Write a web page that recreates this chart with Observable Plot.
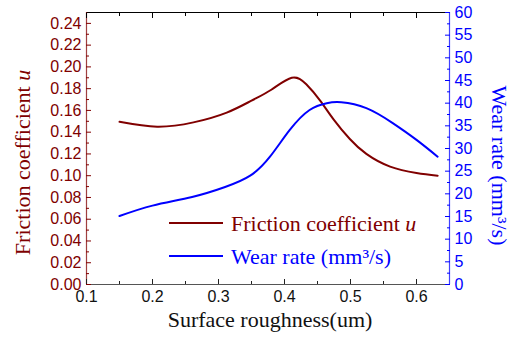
<!DOCTYPE html>
<html>
<head>
<meta charset="utf-8">
<script src="https://cdn.jsdelivr.net/npm/d3@7"></script>
<script src="https://cdn.jsdelivr.net/npm/@observablehq/plot@0.6"></script>
<style>
  html, body { margin: 0; padding: 0; background: #fff; }
  #chart { width: 513px; height: 347px; }
</style>
</head>
<body>
<div id="chart"></div>
<script>
// ---- data ----
const roughnessF = [0.15, 0.207, 0.262, 0.3125, 0.35, 0.38, 0.411, 0.433, 0.454, 0.474, 0.499, 0.524, 0.56, 0.60, 0.632];
const friction   = [0.1495, 0.145, 0.149, 0.158, 0.169, 0.179, 0.190, 0.184, 0.169, 0.152, 0.1337, 0.120, 0.1083, 0.1025, 0.100];
const roughnessW = [0.15, 0.20, 0.26, 0.31, 0.348, 0.378, 0.408, 0.438, 0.464, 0.486, 0.524, 0.564, 0.60, 0.632];
const wearRate   = [15.1, 17.4, 19.3, 21.5, 24.0, 28.2, 34.1, 38.5, 40.0, 40.2, 38.9, 35.6, 31.9, 28.2];

const xTicks = [0.1, 0.2, 0.3, 0.4, 0.5, 0.6];
const xMinorTicks = [0.15, 0.25, 0.35, 0.45, 0.55];
const frictionTicks = [0, 0.02, 0.04, 0.06, 0.08, 0.10, 0.12, 0.14, 0.16, 0.18, 0.20, 0.22, 0.24];
const frictionMinorTicks = [0.01, 0.03, 0.05, 0.07, 0.09, 0.11, 0.13, 0.15, 0.17, 0.19, 0.21, 0.23];
const wearTicks = [0, 5, 10, 15, 20, 25, 30, 35, 40, 45, 50, 55, 60];
const wearMinorTicks = [2.5, 7.5, 12.5, 17.5, 22.5, 27.5, 32.5, 37.5, 42.5, 47.5, 52.5, 57.5];

const xDomain = [0.1, 0.65];
const frictionDomain = [0, 0.25];
const wearDomain = [0, 60];

const xLabel = "Surface roughness(um)";
const frictionLabel = "Friction coefficient u";
const wearLabel = "Wear rate (mm³/s)";

// ---- styling ----
const RED = "#800000";
const BLUE = "#0000ff";
const SANS = "'Liberation Sans', Arial, sans-serif";
const SERIF = "'Liberation Serif', 'Times New Roman', serif";

// wear values mapped onto the friction (left) scale for the secondary axis
const k = frictionDomain[1] / wearDomain[1];
const fData = roughnessF.map((x, i) => ({x, y: friction[i]}));
const wData = roughnessW.map((x, i) => ({x, y: wearRate[i] * k}));

const blank = () => "";

const chart = Plot.plot({
  width: 513,
  height: 347,
  marginLeft: 86,
  marginRight: 64,
  marginTop: 12,
  marginBottom: 63,
  style: {background: "#fff", fontFamily: SANS},
  x: {domain: xDomain},
  y: {domain: frictionDomain},
  marks: [
    // frame lines
    Plot.ruleY([frictionDomain[1]], {stroke: "#000", strokeWidth: 1}),
    Plot.ruleY([frictionDomain[0]], {stroke: "#555", strokeWidth: 1.2}),
    Plot.ruleX([xDomain[0]], {stroke: RED, strokeOpacity: 0.75, strokeWidth: 1.2}),
    Plot.ruleX([xDomain[1]], {stroke: BLUE, strokeOpacity: 0.75, strokeWidth: 1.2}),

    // bottom axis
    Plot.axisX({anchor: "bottom", ticks: xTicks, tickSize: 0, tickPadding: 6, tickFormat: d3.format(".1f"), fontSize: 16, fill: "#111", label: null}),
    Plot.axisX({anchor: "bottom", ticks: xTicks, tickSize: -5, tickFormat: blank, stroke: "#222", label: null}),
    Plot.axisX({anchor: "bottom", ticks: xMinorTicks, tickSize: -3, tickFormat: blank, stroke: "#222", label: null}),
    Plot.axisX({anchor: "top", ticks: xTicks, tickSize: -5, tickFormat: blank, stroke: "#000", label: null}),
    Plot.axisX({anchor: "top", ticks: xMinorTicks, tickSize: -3, tickFormat: blank, stroke: "#000", label: null}),

    // left axis (friction)
    Plot.axisY({anchor: "left", ticks: frictionTicks, tickSize: 0, tickPadding: 5, tickFormat: d3.format(".2f"), fontSize: 16, fill: RED, label: null}),
    Plot.axisY({anchor: "left", ticks: frictionTicks, tickSize: -5, tickFormat: blank, stroke: RED, label: null}),
    Plot.axisY({anchor: "left", ticks: frictionMinorTicks, tickSize: -3, tickFormat: blank, stroke: RED, label: null}),

    // right axis (wear rate)
    Plot.axisY({anchor: "right", ticks: wearTicks.map(v => v * k), tickSize: 0, tickPadding: 5, tickFormat: d => String(Math.round(d / k)), fontSize: 16, fill: BLUE, label: null}),
    Plot.axisY({anchor: "right", ticks: wearTicks.map(v => v * k), tickSize: -5, tickFormat: blank, stroke: BLUE, label: null}),
    Plot.axisY({anchor: "right", ticks: wearMinorTicks.map(v => v * k), tickSize: -3, tickFormat: blank, stroke: BLUE, label: null}),

    // curves
    Plot.line(fData, {x: "x", y: "y", stroke: RED, strokeWidth: 2, curve: "natural"}),
    Plot.line(wData, {x: "x", y: "y", stroke: BLUE, strokeWidth: 2, curve: "natural"}),

    // axis titles
    Plot.text([xLabel], {text: d => d, frameAnchor: "bottom", textAnchor: "middle", dx: 2, dy: 42, fontSize: 22, fontFamily: SERIF, fill: "#111"}),
    Plot.text([frictionLabel], {text: d => d, frameAnchor: "left", textAnchor: "middle", rotate: -90, dx: -64, dy: 14, fontSize: 22, fontFamily: SERIF, fill: RED}),
    Plot.text([wearLabel], {text: d => d, frameAnchor: "right", textAnchor: "middle", rotate: 90, dx: 50, dy: 17, fontSize: 22, fontFamily: SERIF, fill: BLUE})
  ]
});

document.getElementById("chart").appendChild(chart);

// italic "u" in friction labels
const svg = d3.select(chart);
function italicU(sel) {
  sel.each(function() {
    const t = d3.select(this);
    if (t.text() === frictionLabel) {
      t.text(null);
      t.append("tspan").text(frictionLabel.slice(0, -1));
      t.append("tspan").attr("font-style", "italic").text("u");
    }
  });
}
italicU(svg.selectAll("text"));

// legend inside the plot area
const legend = svg.append("g").attr("font-family", SERIF).attr("font-size", 22).attr("text-anchor", "start");
const items = [
  {label: frictionLabel, color: RED},
  {label: wearLabel, color: BLUE}
];
items.forEach((it, i) => {
  const y = 223 + i * 33;
  legend.append("line").attr("x1", 169).attr("x2", 223).attr("y1", y).attr("y2", y)
    .attr("stroke", it.color).attr("stroke-width", 2);
  legend.append("text").attr("x", 231).attr("y", y + 8).attr("fill", it.color).text(it.label);
});
italicU(legend.selectAll("text"));
</script>
</body>
</html>
